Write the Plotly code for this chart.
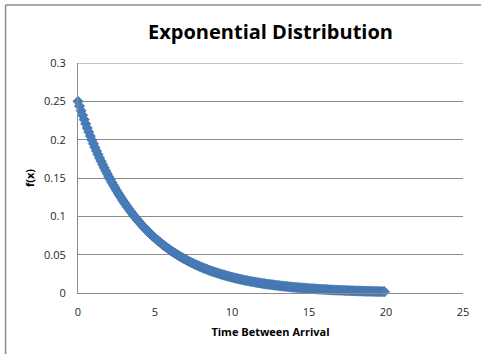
import plotly.graph_objects as go

# Time between arrivals, sampled every 0.1 units
time_between_arrival = [round(0.1 * i, 1) for i in range(200)]

# Density f(x) at each sample
fx = [
    0.2500, 0.2438, 0.2378, 0.2319, 0.2262, 0.2206, 0.2152, 0.2099, 0.2047, 0.1996,
    0.1947, 0.1899, 0.1852, 0.1806, 0.1762, 0.1718, 0.1676, 0.1634, 0.1594, 0.1555,
    0.1516, 0.1479, 0.1442, 0.1407, 0.1372, 0.1338, 0.1305, 0.1273, 0.1241, 0.1211,
    0.1181, 0.1152, 0.1123, 0.1096, 0.1069, 0.1042, 0.1016, 0.0991, 0.0967, 0.0943,
    0.0920, 0.0897, 0.0875, 0.0853, 0.0832, 0.0812, 0.0792, 0.0772, 0.0753, 0.0734,
    0.0716, 0.0699, 0.0681, 0.0665, 0.0648, 0.0632, 0.0616, 0.0601, 0.0586, 0.0572,
    0.0558, 0.0544, 0.0531, 0.0518, 0.0505, 0.0492, 0.0480, 0.0468, 0.0457, 0.0445,
    0.0434, 0.0424, 0.0413, 0.0403, 0.0393, 0.0383, 0.0374, 0.0365, 0.0356, 0.0347,
    0.0338, 0.0330, 0.0322, 0.0314, 0.0306, 0.0299, 0.0291, 0.0284, 0.0277, 0.0270,
    0.0263, 0.0257, 0.0251, 0.0244, 0.0238, 0.0233, 0.0227, 0.0221, 0.0216, 0.0210,
    0.0205, 0.0200, 0.0195, 0.0190, 0.0186, 0.0181, 0.0177, 0.0172, 0.0168, 0.0164,
    0.0160, 0.0156, 0.0152, 0.0148, 0.0145, 0.0141, 0.0138, 0.0134, 0.0131, 0.0128,
    0.0124, 0.0121, 0.0118, 0.0115, 0.0113, 0.0110, 0.0107, 0.0104, 0.0102, 0.0099,
    0.0097, 0.0095, 0.0092, 0.0090, 0.0088, 0.0086, 0.0083, 0.0081, 0.0079, 0.0077,
    0.0075, 0.0074, 0.0072, 0.0070, 0.0068, 0.0067, 0.0065, 0.0063, 0.0062, 0.0060,
    0.0059, 0.0057, 0.0056, 0.0055, 0.0053, 0.0052, 0.0051, 0.0049, 0.0048, 0.0047,
    0.0046, 0.0045, 0.0044, 0.0042, 0.0041, 0.0040, 0.0039, 0.0038, 0.0037, 0.0037,
    0.0036, 0.0035, 0.0034, 0.0033, 0.0032, 0.0031, 0.0031, 0.0030, 0.0029, 0.0028,
    0.0028, 0.0027, 0.0026, 0.0026, 0.0025, 0.0025, 0.0024, 0.0023, 0.0023, 0.0022,
    0.0022, 0.0021, 0.0021, 0.0020, 0.0020, 0.0019, 0.0019, 0.0018, 0.0018, 0.0017,
]

x_ticks = [0, 5, 10, 15, 20, 25]
y_ticks = [0, 0.05, 0.1, 0.15, 0.2, 0.25, 0.3]
y_tick_text = ["0", "0.05", "0.1", "0.15", "0.2", "0.25", "0.3"]

font_family = "Open Sans, Liberation Sans, Arial, sans-serif"

W, H = 481, 354
ML, MR, MT, MB = 78, 15, 63, 61
PW, PH = W - ML - MR, H - MT - MB
GRID = "#8c8c8c"

fig = go.Figure()
fig.add_trace(go.Scatter(
    x=time_between_arrival,
    y=fx,
    mode="markers",
    marker=dict(symbol="diamond", size=8, color="#4a7ebb",
                line=dict(color="#3f6fa8", width=0.6)),
    showlegend=False,
    cliponaxis=False,
))

frame_x = (5 - ML) / PW
frame_y = (H - MB - 5) / PH

fig.update_layout(
    width=W,
    height=H,
    margin=dict(l=ML, r=MR, t=MT, b=MB),
    paper_bgcolor="white",
    plot_bgcolor="white",
    font=dict(family=font_family, color="#262626", size=11),
    title=dict(
        text="<b>Exponential Distribution</b>",
        x=0.5, xref="paper", xanchor="center",
        y=1 - 32 / H, yref="container", yanchor="middle",
        font=dict(size=20, color="#000000", family=font_family),
    ),
    xaxis=dict(
        range=[0, 25],
        tickvals=x_ticks,
        ticktext=[str(v) for v in x_ticks],
        showgrid=False,
        zeroline=False,
        showline=True,
        linecolor=GRID,
        linewidth=1,
        ticks="",
        ticklabelstandoff=9,
        tickfont=dict(size=11, color="#262626"),
        title=dict(text="<b>Time Between Arrival</b>", standoff=10,
                   font=dict(size=11, color="#000000")),
    ),
    yaxis=dict(
        range=[0, 0.3],
        tickvals=y_ticks,
        ticktext=y_tick_text,
        showgrid=True,
        gridcolor=GRID,
        gridwidth=1,
        zeroline=False,
        showline=True,
        linecolor=GRID,
        linewidth=1,
        ticks="",
        ticklabelstandoff=9,
        tickfont=dict(size=11, color="#262626"),
        title=dict(text="<b>f(x)</b>", standoff=7,
                   font=dict(size=11, color="#000000")),
    ),
    shapes=[
        # gridline on the top of the value range
        dict(type="line", xref="paper", yref="y",
             x0=0, x1=1, y0=y_ticks[-1], y1=y_ticks[-1],
             line=dict(color=GRID, width=1), layer="below"),
        # chart frame: top and left edges
        dict(type="line", xref="paper", yref="paper",
             x0=frame_x, x1=1.2, y0=frame_y, y1=frame_y,
             line=dict(color=GRID, width=1.5)),
        dict(type="line", xref="paper", yref="paper",
             x0=frame_x, x1=frame_x, y0=-0.5, y1=frame_y,
             line=dict(color=GRID, width=1.5)),
    ],
)

fig.write_html("out.html")
